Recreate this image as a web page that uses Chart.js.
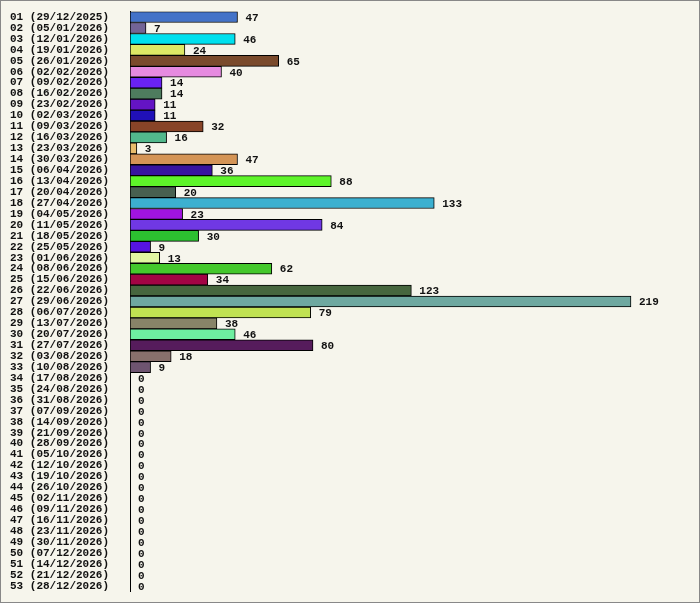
<!DOCTYPE html>
<html>
<head>
<script src="https://cdn.jsdelivr.net/npm/chart.js"></script>
<style>
	body { margin: 0; background: #fff; }
	#wrap { width: 698px; height: 601px; border: 1px solid #888; background: #f6f5ec; }
</style>
</head>
<body>
<div id="wrap"><canvas id="myChart" width="698" height="601"></canvas></div>
<script>
var weeks = ['29/12/2025','05/01/2026','12/01/2026','19/01/2026','26/01/2026','02/02/2026','09/02/2026','16/02/2026','23/02/2026','02/03/2026',
	'09/03/2026','16/03/2026','23/03/2026','30/03/2026','06/04/2026','13/04/2026','20/04/2026','27/04/2026','04/05/2026','11/05/2026',
	'18/05/2026','25/05/2026','01/06/2026','08/06/2026','15/06/2026','22/06/2026','29/06/2026','06/07/2026','13/07/2026','20/07/2026',
	'27/07/2026','03/08/2026','10/08/2026','17/08/2026','24/08/2026','31/08/2026','07/09/2026','14/09/2026','21/09/2026','28/09/2026',
	'05/10/2026','12/10/2026','19/10/2026','26/10/2026','02/11/2026','09/11/2026','16/11/2026','23/11/2026','30/11/2026','07/12/2026',
	'14/12/2026','21/12/2026','28/12/2026'];
var counts = [47,7,46,24,65,40,14,14,11,11,32,16,3,47,36,88,20,133,23,84,30,9,13,62,34,123,219,79,38,46,80,18,9,
	0,0,0,0,0,0,0,0,0,0,0,0,0,0,0,0,0,0,0,0];
var barColors = ['#4372c8','#736496','#00e0ee','#dde865','#7a4a2c','#e68ae0','#6a22f4','#4e7c5e','#6414c4','#2010b8',
	'#884428','#52b88c','#e8bc6c','#d49456','#3814a0','#5ef42a','#486050','#3cb0d0','#a014e0','#7038e4',
	'#2cc030','#5614e0','#e2f8a2','#44c82c','#a20444','#46663e','#6ea8a0','#c0e252','#888468','#6eeea0',
	'#561c5c','#88706c','#6e5470'];
while (barColors.length < counts.length) barColors.push('#888888');

var labels = weeks.map(function(w, i){ return (i < 9 ? '0' : '') + (i + 1) + ' (' + w + ')'; });

var valueLabels = {
	id: 'valueLabels',
	afterDatasetsDraw: function(chart) {
		var ctx = chart.ctx;
		var meta = chart.getDatasetMeta(0);
		ctx.save();
		ctx.font = 'bold 11px "Liberation Mono", monospace';
		ctx.fillStyle = '#111';
		ctx.textBaseline = 'middle';
		meta.data.forEach(function(bar, i){
			ctx.fillText(String(counts[i]), bar.x + 8, bar.y + 1);
		});
		ctx.restore();
	}
};

new Chart(document.getElementById('myChart'), {
	type: 'bar',
	data: {
		labels: labels,
		datasets: [{
			data: counts,
			backgroundColor: barColors,
			borderColor: '#000',
			borderWidth: 1,
			borderSkipped: false,
			barPercentage: 1,
			categoryPercentage: 1
		}]
	},
	options: {
		indexAxis: 'y',
		responsive: false,
		animation: false,
		layout: { padding: { left: 9, right: 9, top: 10, bottom: 8 } },
		plugins: { legend: { display: false }, tooltip: { enabled: false } },
		scales: {
			x: { display: false, min: 0, max: 244.8 },
			y: {
				afterFit: function(s){ s.width = 120; },
				grid: { display: false, drawTicks: false },
				border: { display: true, color: '#000', width: 1 },
				ticks: {
					crossAlign: 'far',
					padding: 4,
					color: '#111',
					autoSkip: false,
					font: { family: '"Liberation Mono", monospace', size: 11, weight: 'bold' }
				}
			}
		}
	},
	plugins: [valueLabels]
});
</script>
</body>
</html>
